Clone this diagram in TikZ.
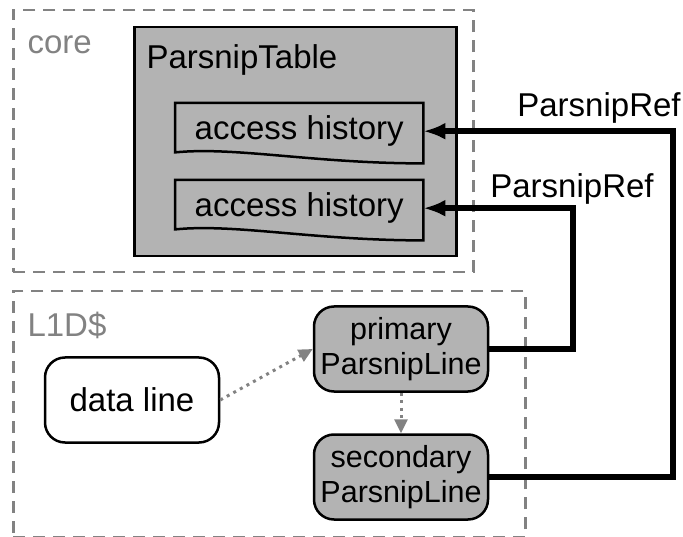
\documentclass[tikz,border=0pt]{standalone}
\usepackage{fontspec}
\setmainfont{Liberation Sans}
\usepackage{xcolor}
\usetikzlibrary{arrows.meta}

\definecolor{boxgray}{HTML}{B3B3B3}
\definecolor{dashgray}{HTML}{828282}

\begin{document}
\begin{tikzpicture}[x=1pt,y=-1pt,
    every node/.style={font=\fontsize{33}{37}\selectfont},
    region/.style={draw=dashgray,line width=2.5pt,dash pattern=on 12pt off 8pt,minimum width=#1,anchor=north west},
    regionlbl/.style={anchor=west,text=dashgray},
    histnode/.style={minimum width=248,minimum height=56,anchor=north west,inner sep=0pt},
    histbox/.style={draw,line width=2.5pt,line join=miter},
    lineblock/.style={draw,line width=2.5pt,rounded corners=20pt,minimum width=174,minimum height=85,
        align=center,font=\fontsize{30.5}{35}\selectfont},
    dotarrow/.style={draw=dashgray,line width=3pt,dash pattern=on 3pt off 4.5pt,
        -{Triangle[length=14pt,width=13pt]}},
    ref/.style={line width=6pt,-{Latex[length=22pt,width=17pt]}}]
    \useasboundingbox (0,0) rectangle (683,537);

    % core side
    \node[region=460,minimum height=262] (core) at (12,9) {};
    \node[regionlbl] (corelbl) at (24,45) {core};
    \node[draw,fill=boxgray,line width=2.5pt,minimum width=322,minimum height=229,anchor=north west] (table) at (133,26) {};
    \node[anchor=west] (tablelbl) at (143,60) {ParsnipTable};
    \node[histnode] (hist1) at (175,103) {access history};
    \node[histnode] (hist2) at (175,180) {access history};
    \foreach \h in {hist1,hist2}
        \draw[histbox] (\h.north west) -- (\h.north east) -- ([yshift=-4pt]\h.south east)
            .. controls +(-110,0) and +(60,-6) .. ([yshift=7pt]\h.south west) -- cycle;

    % L1D$ side
    \node[region=512,minimum height=246] (l1d) at (12,290) {};
    \node[regionlbl] (l1dlbl) at (24,325) {L1D\$};
    \node[lineblock,fill=white,font=\fontsize{33}{37}\selectfont] (data) at (132,400) {data line};
    \node[lineblock,fill=boxgray] (primary) at (401,349) {primary\\ParsnipLine};
    \node[lineblock,fill=boxgray] (secondary) at (401,477) {secondary\\ParsnipLine};

    \draw[dotarrow] (data.east) -- (primary.west);
    \draw[dotarrow] (primary.south) -- (secondary.north);

    % references
    \coordinate (bend1) at (673,477);
    \coordinate (bend2) at (573,349);
    \draw[ref] (secondary.east) -- (bend1) |- (hist1.east);
    \draw[ref] (primary.east) -- (bend2) |- (hist2.east);
    \node (ref1) at (599,108) {ParsnipRef};
    \node (ref2) at (572,189) {ParsnipRef};
\end{tikzpicture}
\end{document}
